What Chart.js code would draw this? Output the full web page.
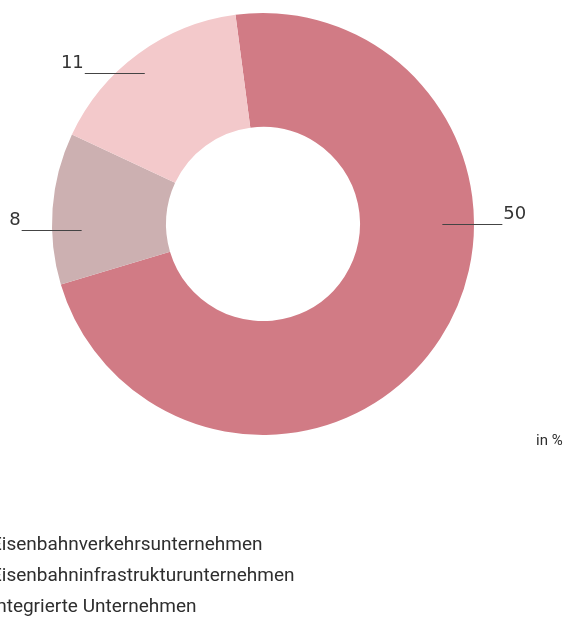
<!DOCTYPE html>
<html>
<head>
<meta charset="utf-8">
<script src="https://cdn.jsdelivr.net/npm/chart.js@4.4.1/dist/chart.umd.min.js"></script>
<style>
  html, body { margin: 0; padding: 0; background: #ffffff; overflow: hidden; }
  #wrap { position: relative; width: 565px; height: 617px; }
  #c { position: absolute; left: 0; top: 0; }
  .leg { position: absolute; left: -9px; font-family: Roboto, "DejaVu Sans", sans-serif; font-size: 19px; color: #2e2e2e; white-space: nowrap; line-height: 1; }
  #unit { position: absolute; left: 536px; top: 433px; font-family: Roboto, "DejaVu Sans", sans-serif; font-size: 15px; color: #2e2e2e; white-space: nowrap; line-height: 1; }
</style>
</head>
<body>
<div id="wrap">
  <canvas id="c" width="565" height="617"></canvas>
  <div id="unit"></div>
</div>
<script>
const categories = ["Eisenbahnverkehrsunternehmen", "Eisenbahninfrastrukturunternehmen", "Integrierte Unternehmen"];
const values = [50, 8, 11];
const colors = ["#d17b85", "#ccb0b1", "#f3c9cb"];
const unitLabel = "in %";

const wrap = document.getElementById('wrap');
categories.forEach((name, i) => {
  const d = document.createElement('div');
  d.className = 'leg';
  d.style.top = (534 + i * 31) + 'px';
  d.textContent = name;
  wrap.appendChild(d);
});
document.getElementById('unit').textContent = unitLabel;

const leaderPlugin = {
  id: 'leaders',
  afterDatasetsDraw(chart, args, opts) {
    const ctx = chart.ctx;
    const meta = chart.getDatasetMeta(0);
    meta.data.forEach((arc, i) => {
      const a = opts.anchors[i];
      const ang = (a.angle - 90) * Math.PI / 180;
      const r = arc.outerRadius * a.r;
      const ax = arc.x + r * Math.cos(ang);
      const ay = Math.round(arc.y + r * Math.sin(ang)) + 0.5;
      const dir = Math.cos(ang) >= 0 ? 1 : -1;
      const ex = ax + dir * opts.length;
      ctx.save();
      ctx.strokeStyle = opts.lineColor;
      ctx.lineWidth = 1;
      ctx.beginPath();
      ctx.moveTo(ax, ay);
      ctx.lineTo(ex, ay);
      ctx.stroke();
      ctx.fillStyle = opts.textColor;
      ctx.font = opts.font;
      ctx.textBaseline = 'alphabetic';
      ctx.textAlign = dir > 0 ? 'left' : 'right';
      ctx.fillText(String(chart.data.datasets[0].data[i]), ex + dir * 1, ay - 6);
      ctx.restore();
    });
  }
};

new Chart(document.getElementById('c'), {
  type: 'doughnut',
  data: {
    labels: categories,
    datasets: [{
      data: values,
      backgroundColor: colors,
      borderWidth: 0,
      hoverOffset: 0
    }]
  },
  options: {
    responsive: false,
    animation: false,
    rotation: -7.5,
    cutout: '46%',
    layout: { padding: { left: 52, right: 91, top: 13, bottom: 182 } },
    plugins: {
      legend: { display: false },
      tooltip: { enabled: false },
      leaders: {
        anchors: [
          { angle: 90, r: 0.85 },
          { angle: 268, r: 0.86 },
          { angle: 322, r: 0.91 }
        ],
        length: 60,
        lineColor: '#444',
        textColor: '#333',
        font: '18px "DejaVu Sans", sans-serif'
      }
    }
  },
  plugins: [leaderPlugin]
});
</script>
</body>
</html>
